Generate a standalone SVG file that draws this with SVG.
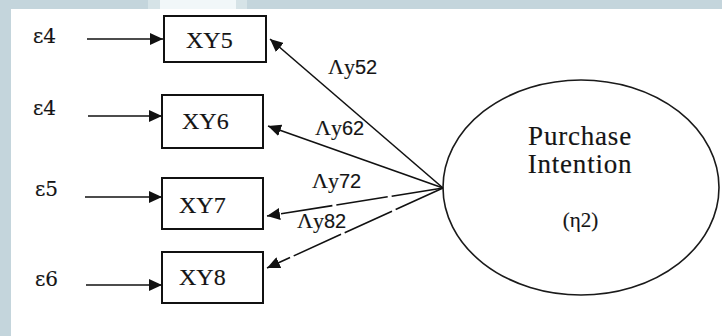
<svg xmlns="http://www.w3.org/2000/svg" width="722" height="336" viewBox="0 0 722 336">
  <style>
    .frame { fill: #c4d5dc; }
    .box { fill: #ffffff; stroke: #111111; stroke-width: 2; }
    .latent { fill: #ffffff; stroke: #1a1a1a; stroke-width: 1.6; }
    .lbl { font-family: "Liberation Serif", "Times New Roman", serif; fill: #141414; stroke: #141414; stroke-width: 0.15; }
    .eps { font-family: "DejaVu Serif", "Liberation Serif", serif; font-size: 20px; fill: #141414; stroke: #141414; stroke-width: 0.15; }
    .load { font-family: "Liberation Serif", serif; font-size: 22px; fill: #141414; stroke: #141414; stroke-width: 0.15; }
    .num { font-family: "Liberation Sans", "DejaVu Sans", sans-serif; font-size: 20px; }
    .edge { stroke: #111111; stroke-width: 1.6; fill: none; marker-end: url(#head); }
    .dashed { stroke-dasharray: 52 4; }
  </style>
  <defs>
    <marker id="head" markerUnits="userSpaceOnUse" markerWidth="14" markerHeight="12" refX="13" refY="6" orient="auto">
      <path d="M0,0 L13,6 L0,12 z" fill="#111111"/>
    </marker>
  </defs>

  <!-- slide frame behind the figure -->
  <rect class="frame" x="0" y="0" width="722" height="336"/>
  <rect x="148" y="0" width="99" height="9" fill="#d6e3e7"/>
  <rect x="160" y="0" width="76" height="9" fill="#f1f7f9"/>
  <rect x="11" y="9" width="711" height="327" fill="#ffffff"/>

  <!-- error terms -->
  <g id="errors">
    <text class="eps" x="33" y="43">ε4</text>
    <text class="eps" x="33" y="115">ε4</text>
    <text class="eps" x="35" y="196">ε5</text>
    <text class="eps" x="35" y="286">ε6</text>
  </g>

  <!-- observed indicators -->
  <g id="XY5">
    <rect class="box" x="164" y="16" width="102" height="46"/>
    <text class="lbl" x="186" y="48" font-size="24">XY5</text>
  </g>
  <g id="XY6">
    <rect class="box" x="162" y="95" width="101" height="53"/>
    <text class="lbl" x="182" y="129" font-size="24">XY6</text>
  </g>
  <g id="XY7">
    <rect class="box" x="162" y="178" width="101" height="51"/>
    <text class="lbl" x="179" y="213" font-size="24">XY7</text>
  </g>
  <g id="XY8">
    <rect class="box" x="162" y="252" width="101" height="51"/>
    <text class="lbl" x="179" y="285" font-size="24">XY8</text>
  </g>

  <!-- latent construct -->
  <g id="purchase-intention">
    <ellipse class="latent" cx="581" cy="187.5" rx="138" ry="107.5"/>
    <text class="lbl" x="580" y="145" font-size="27" letter-spacing="0.8" text-anchor="middle">Purchase</text>
    <text class="lbl" x="580" y="173" font-size="27" letter-spacing="0.8" text-anchor="middle">Intention</text>
    <text class="lbl" x="580.5" y="227" font-size="21" text-anchor="middle">(η2)</text>
  </g>

  <!-- connectors -->
  <g id="connectors">
    <line class="edge" x1="87" y1="39" x2="163" y2="39"/>
    <line class="edge" x1="88" y1="116" x2="162" y2="116"/>
    <line class="edge" x1="85" y1="197" x2="162" y2="197"/>
    <line class="edge" x1="86" y1="285" x2="162" y2="285"/>

    <line class="edge" x1="443" y1="188" x2="270" y2="39"/>
    <line class="edge" x1="443" y1="188" x2="268" y2="126"/>
    <line class="edge dashed" x1="443" y1="188" x2="267" y2="216"/>
    <line class="edge dashed" x1="443" y1="188" x2="267" y2="268"/>
  </g>

  <!-- loading labels -->
  <g id="loadings">
    <text class="load" x="328" y="74">Λy<tspan class="num">52</tspan></text>
    <text class="load" x="315" y="135">Λy<tspan class="num">62</tspan></text>
    <text class="load" x="312" y="188">Λy<tspan class="num">72</tspan></text>
    <text class="load" x="297" y="228">Λy<tspan class="num">82</tspan></text>
  </g>
</svg>
